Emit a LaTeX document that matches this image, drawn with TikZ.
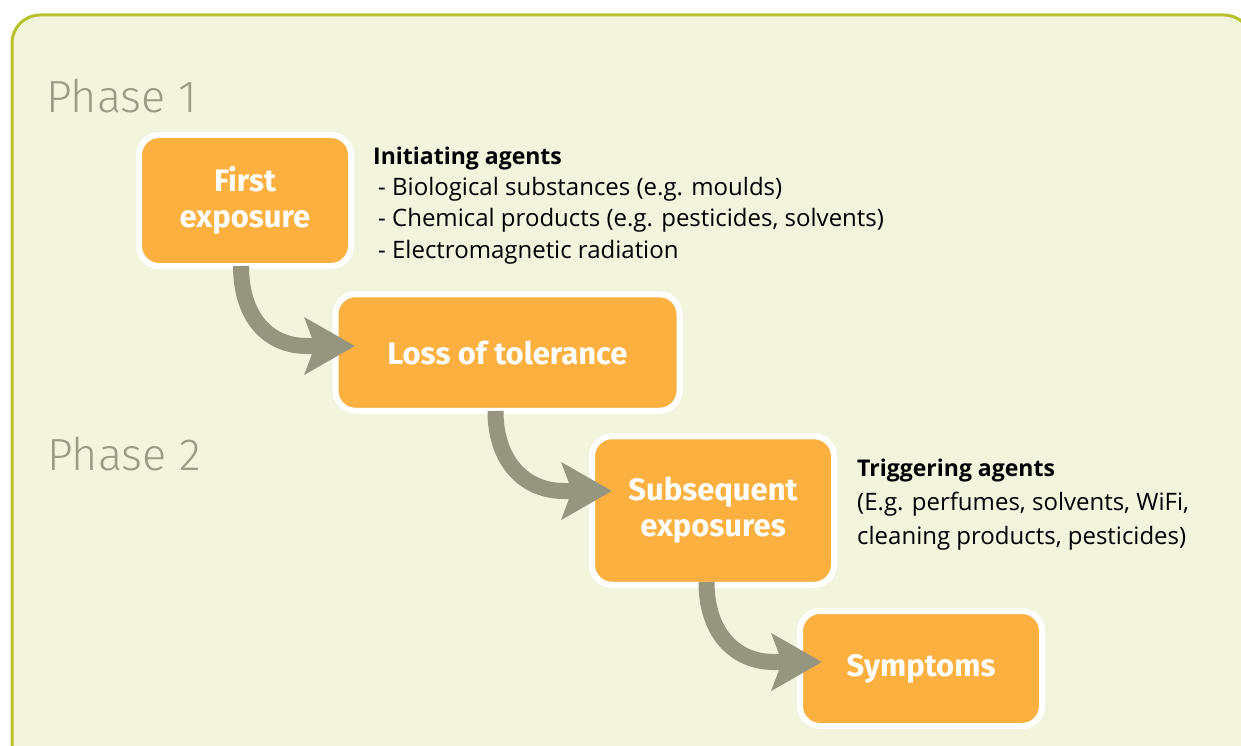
\documentclass[tikz,border=0pt]{standalone}
\usepackage{fontspec}
\setmainfont{Open Sans}
\newfontfamily\phasefont{Fira Sans Light}
\newfontfamily\labelfont{Fira Sans}
\usetikzlibrary{arrows.meta,calc}
\definecolor{frameline}{HTML}{B7C12B}
\definecolor{framefill}{HTML}{F2F4DD}
\definecolor{boxfill}{HTML}{FBB040}
\definecolor{arrowgray}{HTML}{96957F}
\definecolor{phasegray}{HTML}{9C9B87}
\begin{document}
\begin{tikzpicture}[x=1pt,y=-1pt,
  stage/.style={draw=white, line width=6pt, fill=boxfill, rounded corners=20pt,
    text=white, font=\labelfont\fontsize{31}{36}\selectfont\bfseries, align=center, inner sep=0pt},
  flow/.style={draw=arrowgray, line width=16pt,
    -{Stealth[length=50pt,width=56pt,inset=10pt]}},
  phase/.style={font=\phasefont\fontsize{45}{50}\selectfont, text=phasegray,
    anchor=base west, inner sep=0pt},
  agents/.style={font=\fontsize{24}{31.3}\selectfont, anchor=base west,
    align=left, inner sep=0pt}]
\useasboundingbox (0,0) rectangle (1241,746);
\fill[white] (0,0) rectangle (1241,746);
\begin{scope}
  \clip (0,0) rectangle (1241,746);
  \draw[frameline, line width=3pt, fill=framefill, rounded corners=28pt]
    (12,15) rectangle (1252,775);
\end{scope}

\node[phase] (p1) at (46,113) {Phase 1};
\node[phase] (p2) at (47,470) {Phase 2};

\node[stage, minimum width=212pt, minimum height=131pt] (A) at (245,200.5) {First\\exposure};
\node[stage, minimum width=344pt, minimum height=116.5pt] (B) at (507.5,352.5) {Loss of tolerance};
\node[stage, minimum width=242pt, minimum height=148.5pt] (C) at (713,510.5) {Subsequent\\exposures};
\node[stage, minimum width=242pt, minimum height=115pt] (D) at (921,668.5) {Symptoms};

\node[agents] (ia) at (373,258) {{\fontsize{23}{31.3}\selectfont\bfseries Initiating agents}\\
  \hspace*{5pt}- Biological substances (e.g. moulds)\\
  \hspace*{5pt}- Chemical products (e.g. pesticides, solvents)\\
  \hspace*{5pt}- Electromagnetic radiation};
\node[agents, font=\fontsize{24}{34}\selectfont] (ta) at (857,544) {{\fontsize{23}{34}\selectfont\bfseries Triggering agents}\\
  (E.g. perfumes, solvents, WiFi,\\
  cleaning products, pesticides)};

\draw[flow] ($(A.south)+(-4,-3)$) .. controls +(0,50) and +(-40,0) ..
  ($(B.west)+(-25.5,-6.5)$) -- ($(B.west)+(22.5,-6.5)$);
\draw[flow] ($(B.south)+(-12,-2.75)$) .. controls +(0,50) and +(-40,0) ..
  ($(C.west)+(-25,-19.5)$) -- ($(C.west)+(23,-19.5)$);
\draw[flow] ($(C.south)+(-6.5,-5.75)$) .. controls +(0,50) and +(-40,0) ..
  ($(D.west)+(-23,-6.5)$) -- ($(D.west)+(25,-6.5)$);
\end{tikzpicture}
\end{document}
